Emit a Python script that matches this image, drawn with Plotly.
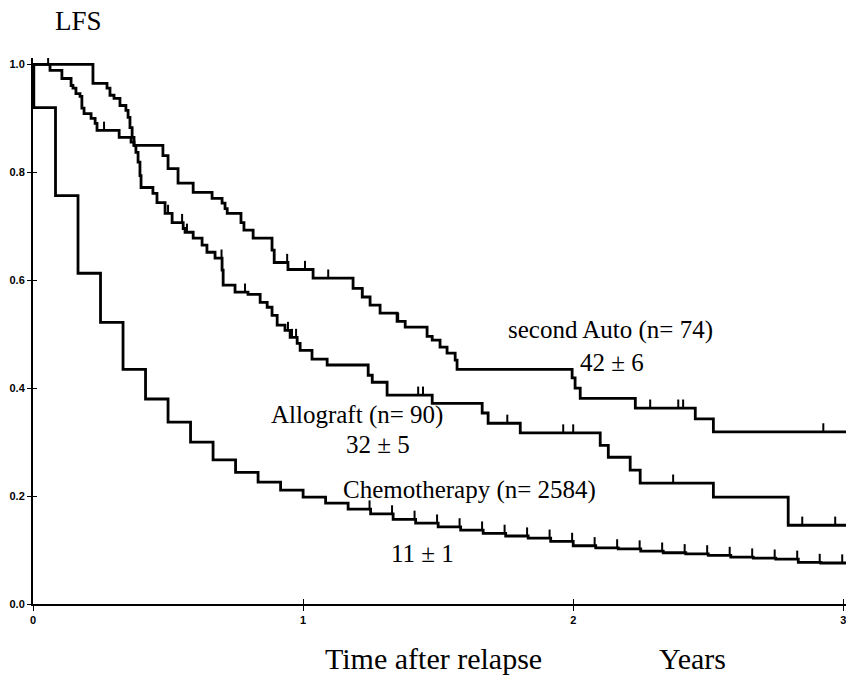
import plotly.graph_objects as go

# ---- Data ----
# second Auto (n=74): step times (years) and survival after each step
auto_t = [0.0, 0.063, 0.107, 0.141, 0.148, 0.159, 0.174, 0.181, 0.189, 0.215, 0.230, 0.237,
          0.319, 0.363, 0.374, 0.481, 0.500, 0.537, 0.593, 0.663, 0.700, 0.711, 0.719,
          0.770, 0.781, 0.815, 0.885, 0.893, 0.944, 1.037, 1.185, 1.219, 1.248, 1.285,
          1.348, 1.378, 1.459, 1.478, 1.507, 1.533, 1.563, 1.570, 1.996, 2.007, 2.026,
          2.230, 2.452, 2.519, 3.02]
auto_s = [1.0, 0.989, 0.974, 0.961, 0.956, 0.946, 0.941, 0.919, 0.909, 0.900, 0.891, 0.878,
          0.865, 0.856, 0.850, 0.831, 0.807, 0.780, 0.763, 0.752, 0.743, 0.733, 0.724,
          0.707, 0.693, 0.678, 0.656, 0.633, 0.620, 0.604, 0.585, 0.569, 0.554, 0.539,
          0.524, 0.513, 0.496, 0.489, 0.476, 0.465, 0.452, 0.435, 0.419, 0.400, 0.381,
          0.363, 0.343, 0.319, 0.319]
auto_cens = [0.056, 0.263, 0.770, 0.941, 1.007, 1.093, 1.219, 1.352, 2.285, 2.389, 2.407, 2.926]

# Allograft (n=90)
allo_t = [0.0, 0.222, 0.274, 0.285, 0.300, 0.322, 0.344, 0.352, 0.359, 0.367, 0.374, 0.381,
          0.389, 0.396, 0.400, 0.444, 0.459, 0.489, 0.515, 0.556, 0.563, 0.593, 0.626,
          0.644, 0.674, 0.700, 0.704, 0.748, 0.796, 0.841, 0.867, 0.885, 0.904, 0.933,
          0.952, 0.978, 0.989, 1.033, 1.089, 1.241, 1.256, 1.311, 1.478, 1.663, 1.685,
          1.804, 2.100, 2.130, 2.211, 2.248, 2.519, 2.796, 3.02]
allo_s = [1.0, 0.965, 0.956, 0.943, 0.937, 0.924, 0.915, 0.902, 0.883, 0.865, 0.850, 0.837,
          0.819, 0.794, 0.772, 0.761, 0.744, 0.724, 0.707, 0.696, 0.689, 0.678, 0.665,
          0.652, 0.641, 0.619, 0.591, 0.578, 0.574, 0.559, 0.550, 0.535, 0.517, 0.507,
          0.494, 0.483, 0.470, 0.454, 0.443, 0.424, 0.411, 0.387, 0.372, 0.354, 0.335,
          0.317, 0.294, 0.272, 0.248, 0.224, 0.198, 0.146, 0.146]
allo_cens = [0.500, 0.552, 0.570, 0.698, 0.785, 0.944, 0.959, 0.974, 1.426, 1.444, 1.756,
             1.963, 2.000, 2.370, 2.848, 2.970]

# Chemotherapy (n=2584): monthly steps
chemo_t = [0.0, 0.003, 1/12, 2/12, 3/12, 4/12, 5/12, 6/12, 7/12, 8/12, 9/12, 10/12, 11/12,
           12/12, 13/12, 14/12, 15/12, 16/12, 17/12, 18/12, 19/12, 20/12, 21/12, 22/12,
           23/12, 24/12, 25/12, 26/12, 27/12, 28/12, 29/12, 30/12, 31/12, 32/12, 33/12,
           34/12, 35/12, 3.02]
chemo_s = [1.0, 0.920, 0.757, 0.613, 0.522, 0.435, 0.380, 0.337, 0.300, 0.267, 0.244, 0.226,
           0.211, 0.198, 0.187, 0.176, 0.167, 0.157, 0.150, 0.143, 0.137, 0.131, 0.126,
           0.122, 0.116, 0.108, 0.104, 0.102, 0.098, 0.095, 0.093, 0.090, 0.087, 0.085,
           0.083, 0.077, 0.076, 0.076]
chemo_cens = [k / 12 - 0.004 for k in range(15, 37)]

y_ticks = [0.0, 0.2, 0.4, 0.6, 0.8, 1.0]
x_ticks = [0, 1, 2, 3]

labels = [
    ("second Auto (n= 74)", 2.137, 0.507),
    ("42 \u00b1 6", 2.144, 0.448),
    ("Allograft (n= 90)", 1.200, 0.350),
    ("32 \u00b1 5", 1.278, 0.296),
    ("Chemotherapy (n= 2584)", 1.615, 0.211),
    ("11 \u00b1 1", 1.441, 0.094),
]


def step_value(ts, ss, t):
    v = ss[0]
    for ti, si in zip(ts, ss):
        if ti <= t:
            v = si
        else:
            break
    return v


TICK_H = 0.016
fig = go.Figure()
for ts, ss, cens in [(auto_t, auto_s, auto_cens), (allo_t, allo_s, allo_cens),
                     (chemo_t, chemo_s, chemo_cens)]:
    fig.add_trace(go.Scatter(x=ts, y=ss, mode="lines", line=dict(color="black", width=2.8, shape="hv"),
                             showlegend=False, hoverinfo="skip"))
    cx, cy = [], []
    for c in cens:
        v = step_value(ts, ss, c)
        cx += [c, c, None]
        cy += [v, v + TICK_H, None]
    fig.add_trace(go.Scatter(x=cx, y=cy, mode="lines", line=dict(color="black", width=2),
                             showlegend=False, hoverinfo="skip"))

# dummy trace for the overlay axes (inside half of the crossing ticks)
fig.add_trace(go.Scatter(x=[None], y=[None], xaxis="x2", yaxis="y2", showlegend=False, hoverinfo="skip"))

serif = "Liberation Serif, Times New Roman, serif"
for txt, x, y in labels:
    fig.add_annotation(x=x, y=y, xref="x", yref="y", text=txt, showarrow=False,
                       xanchor="center", yanchor="middle",
                       font=dict(family=serif, size=25, color="black"))

L, T, B, R = 33, 58, 73, 0
W, H = 846, 677
pw, ph = W - L - R, H - T - B


def px(x, y):
    return (x - L) / pw, (H - B - y) / ph


for txt, x, y, s in [("LFS", 78, 21, 27), ("Time after relapse", 433, 658, 30), ("Years", 692, 658, 30)]:
    ax, ay = px(x, y)
    fig.add_annotation(x=ax, y=ay, xref="paper", yref="paper", text=txt, showarrow=False,
                       xanchor="center", yanchor="middle",
                       font=dict(family=serif, size=s, color="black"))

tickfont = dict(family="Liberation Sans, Arial, sans-serif", size=11, color="black", weight="bold")
fig.update_layout(
    width=W, height=H,
    margin=dict(l=L, r=R, t=T, b=B, autoexpand=False),
    paper_bgcolor="white", plot_bgcolor="white",
    xaxis=dict(range=[0, 3.01], tickvals=x_ticks, ticktext=[str(v) for v in x_ticks],
               showgrid=False, zeroline=False, showline=True, linecolor="black", linewidth=1.5,
               ticks="outside", ticklen=5, tickwidth=1.2, tickcolor="black", tickfont=tickfont,
               automargin=False, ticklabeloverflow="allow"),
    yaxis=dict(range=[0, 1.012], tickvals=y_ticks, ticktext=[f"{v:.1f}" for v in y_ticks],
               showgrid=False, zeroline=False, showline=True, linecolor="black", linewidth=2,
               ticks="outside", ticklen=4, tickwidth=1.2, tickcolor="black", tickfont=tickfont,
               automargin=False, ticklabeloverflow="allow"),
    xaxis2=dict(range=[0, 3.01], overlaying="x", anchor="y2", tickvals=x_ticks, showticklabels=False,
                ticks="inside", ticklen=5, tickwidth=1.2, tickcolor="black", showgrid=False,
                zeroline=False, showline=False, automargin=False),
    yaxis2=dict(range=[0, 1.012], overlaying="y", anchor="x2", tickvals=y_ticks, showticklabels=False,
                ticks="inside", ticklen=4, tickwidth=1.2, tickcolor="black", showgrid=False,
                zeroline=False, showline=False, automargin=False),
)

fig.write_html("out.html", config={"displayModeBar": False},
               post_script="document.body.style.margin='0';document.body.style.overflow='hidden';")
